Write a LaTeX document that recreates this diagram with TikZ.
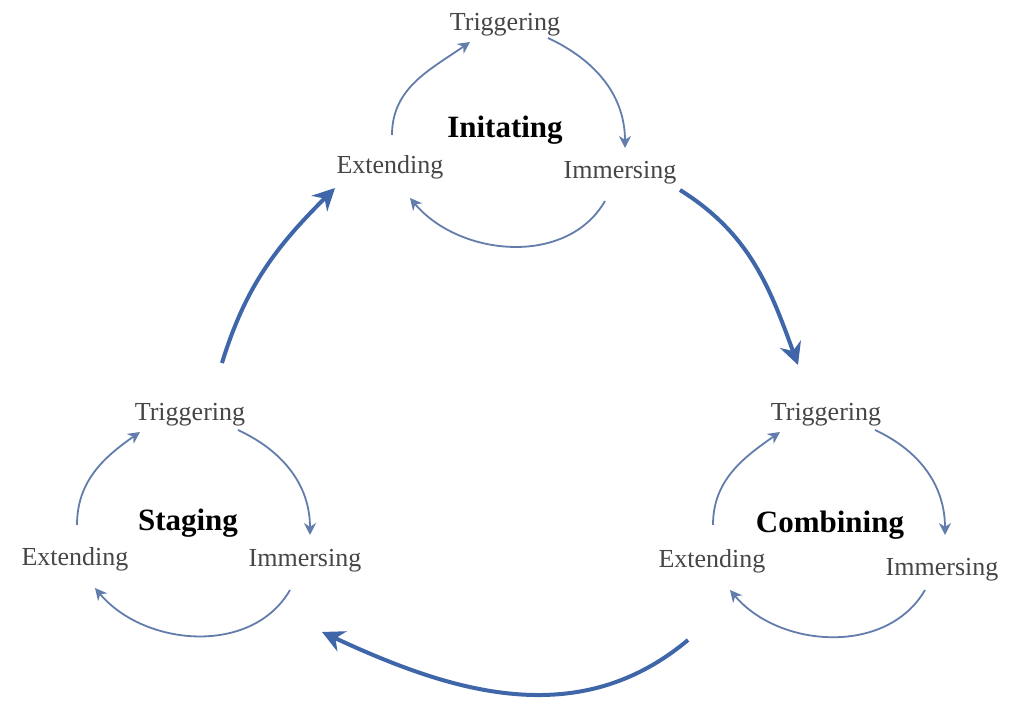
\documentclass[tikz,border=0pt]{standalone}
\usepackage{fontspec}
\setmainfont{Liberation Serif}
\usepackage{tikz}
\usetikzlibrary{arrows.meta}
\definecolor{loopblue}{RGB}{98,124,172}
\definecolor{bigblue}{RGB}{62,102,168}
\definecolor{stagegray}{RGB}{70,70,70}

\begin{document}
\begin{tikzpicture}[x=0.5pt,y=-0.5pt,
    stage/.style={text=stagegray,font=\fontsize{13}{15}\selectfont,inner sep=1pt,text depth=0pt},
    phase/.style={text=black,font=\fontsize{15.5}{18}\selectfont\bfseries,inner sep=1pt,text depth=0pt},
    looparrow/.style={draw=loopblue,line width=0.9pt,-{Stealth[length=6pt,width=6pt]}},
    bigarrow/.style={draw=bigblue,line width=2pt,-{Stealth[length=11pt,width=11pt]}}]
\useasboundingbox (0,0) rectangle (1013,704);
% Initating
\node[phase] (iL) at (505,127) {Initating};
\node[stage] (iT) at (505,22) {Triggering};
\node[stage] (iE) at (390,164) {Extending};
\node[stage] (iI) at (620,170) {Immersing};
\draw[looparrow] ([shift={(2,-29)}]iE.center) to[out=90,in=215] ([shift={(-35,20)}]iT.center);
\draw[looparrow] ([shift={(43,16)}]iT.center) to[out=-25,in=90] ([shift={(5,-22)}]iI.center);
\draw[looparrow] ([shift={(-15,31)}]iI.center) to[out=-120,in=-50] ([shift={(20,34)}]iE.center);
% Staging
\node[phase] (sL) at (188,520) {Staging};
\node[stage] (sT) at (190,412) {Triggering};
\node[stage] (sE) at (75,556) {Extending};
\node[stage] (sI) at (305,558) {Immersing};
\draw[looparrow] ([shift={(2,-31)}]sE.center) to[out=90,in=215] ([shift={(-50,20)}]sT.center);
\draw[looparrow] ([shift={(48,18)}]sT.center) to[out=-25,in=90] ([shift={(5,-23)}]sI.center);
\draw[looparrow] ([shift={(-15,32)}]sI.center) to[out=-120,in=-50] ([shift={(20,32)}]sE.center);
% Combining
\node[phase] (cL) at (830,522) {Combining};
\node[stage] (cT) at (826,412) {Triggering};
\node[stage] (cE) at (712,558) {Extending};
\node[stage] (cI) at (942,567) {Immersing};
\draw[looparrow] ([shift={(1,-33)}]cE.center) to[out=90,in=215] ([shift={(-46,20)}]cT.center);
\draw[looparrow] ([shift={(49,18)}]cT.center) to[out=-25,in=90] ([shift={(3,-32)}]cI.center);
\draw[looparrow] ([shift={(-17,23)}]cI.center) to[out=-120,in=-50] ([shift={(18,32)}]cE.center);
% outer cycle
\draw[bigarrow] ([shift={(60,20)}]iI.center) to[out=-32,in=110] ([shift={(-28,-47)}]cT.center);
\draw[bigarrow] ([shift={(-24,82)}]cE.center) to[out=-140,in=-25] ([shift={(17,74)}]sI.center);
\draw[bigarrow] ([shift={(32,-49)}]sT.center) to[out=73,in=-135] ([shift={(-55,24)}]iE.center);
\end{tikzpicture}
\end{document}
